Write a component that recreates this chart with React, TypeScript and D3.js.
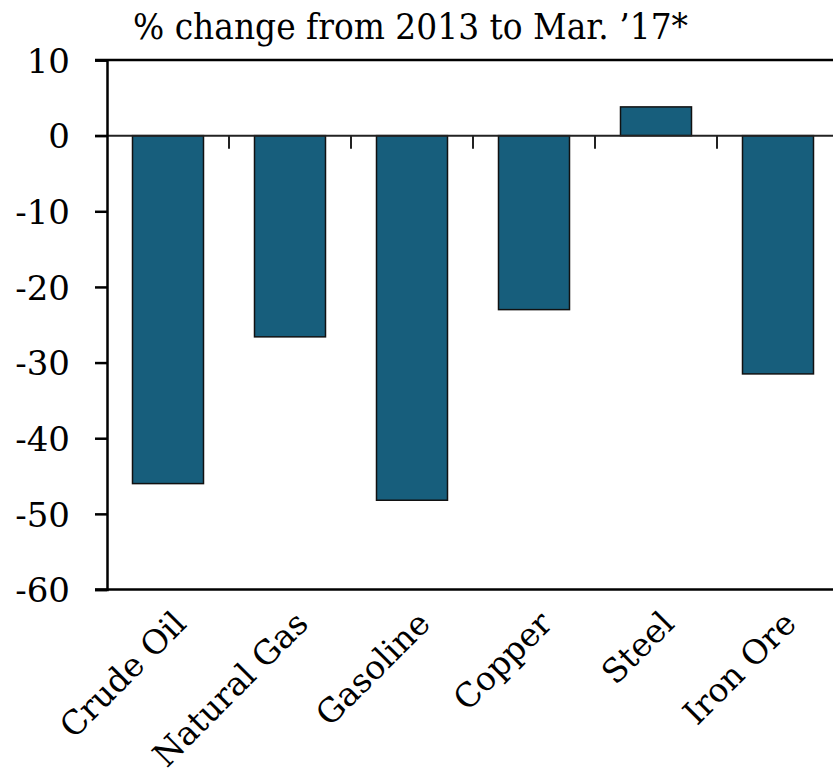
import { useEffect, useRef } from 'react';
import * as d3 from 'd3';

const categories = ['Crude Oil', 'Natural Gas', 'Gasoline', 'Copper', 'Steel', 'Iron Ore'];
const changes = [-46.0, -26.6, -48.2, -23.0, 3.8, -31.5];
const yTicks = [10, 0, -10, -20, -30, -40, -50, -60];
const title = '% change from 2013 to Mar. \u201917*';

export default function App() {
  const ref = useRef<SVGSVGElement>(null);

  useEffect(() => {
    if (!ref.current) return;
    const svg = d3.select(ref.current);
    svg.selectAll('*').remove();

    const font = "'DejaVu Serif', serif";
    const left = 107;
    const right = 839;
    const top = 60;
    const bottom = 589.5;

    const x = d3.scaleBand()
      .domain(categories)
      .range([left, right])
      .paddingInner(0.418)
      .paddingOuter(0.209);

    const y = d3.scaleLinear().domain([-60, 10]).range([bottom, top]);

    // title
    svg.append('text')
      .attr('x', 133)
      .attr('y', 39)
      .style('font-family', font)
      .style('font-size', '35px')
      .attr('textLength', 555)
      .attr('lengthAdjust', 'spacingAndGlyphs')
      .attr('fill', '#000')
      .text(title);

    // bars
    svg.selectAll('.bar')
      .data(categories)
      .enter()
      .append('rect')
      .attr('class', 'bar')
      .attr('x', d => x(d)!)
      .attr('width', x.bandwidth())
      .attr('y', (d, i) => y(Math.max(0, changes[i])))
      .attr('height', (d, i) => Math.abs(y(changes[i]) - y(0)))
      .attr('fill', '#175E7C')
      .attr('stroke', '#111')
      .attr('stroke-width', 1.5);

    // zero line with category ticks
    svg.append('line')
      .attr('x1', left - 12).attr('x2', right)
      .attr('y1', y(0)).attr('y2', y(0))
      .attr('stroke', '#222').attr('stroke-width', 2);

    categories.slice(1).forEach(c => {
      const bx = x(c)! - (x.step() - x.bandwidth()) / 2;
      svg.append('line')
        .attr('x1', bx).attr('x2', bx)
        .attr('y1', y(0)).attr('y2', y(0) + 13)
        .attr('stroke', '#222').attr('stroke-width', 2);
    });

    // top and bottom frame lines
    [10, -60].forEach(v => {
      svg.append('line')
        .attr('x1', left - 12).attr('x2', right)
        .attr('y1', y(v)).attr('y2', y(v))
        .attr('stroke', '#000').attr('stroke-width', 2.5);
    });

    // y axis
    svg.append('g')
      .attr('transform', `translate(${left},0)`)
      .call(d3.axisLeft(y).tickValues(yTicks).tickSize(12).tickPadding(25).tickFormat(d => String(d)))
      .call(g => g.select('.domain').attr('stroke', '#000').attr('stroke-width', 2.5))
      .call(g => g.selectAll('.tick line').attr('stroke', '#000').attr('stroke-width', 2.5))
      .call(g => g.selectAll('.tick text')
        .style('font-family', font)
        .style('font-size', '34px')
        .attr('fill', '#000')
        .attr('dy', '0.36em'));

    // category labels
    svg.selectAll('.cat')
      .data(categories)
      .enter()
      .append('text')
      .attr('class', 'cat')
      .attr('transform', d => `translate(${x(d)! + x.bandwidth() / 2 + 20},${bottom + 36}) rotate(-45)`)
      .attr('text-anchor', 'end')
      .style('font-family', font)
      .style('font-size', '33px')
      .attr('fill', '#000')
      .text(d => d);
  }, []);

  return (
    <div style={{ position: 'absolute', left: 0, top: 0, width: 833, height: 781, background: '#fff' }}>
      <svg ref={ref} width={833} height={781} style={{ display: 'block', overflow: 'hidden' }} />
    </div>
  );
}
